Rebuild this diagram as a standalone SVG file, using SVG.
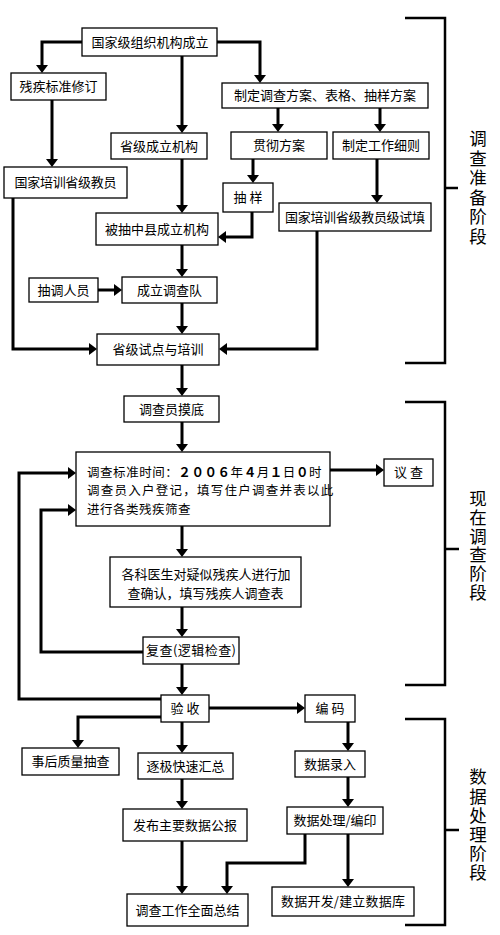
<svg xmlns="http://www.w3.org/2000/svg" width="500" height="935" viewBox="0 0 500 935">
<style>
.b{fill:#fff;stroke:#000;stroke-width:1.3}
.t{font-family:"Noto Sans CJK SC","Noto Sans",sans-serif;font-size:13px;fill:#000;text-anchor:middle}
.tl{font-family:"Noto Sans CJK SC","Noto Sans",sans-serif;font-size:12.5px;fill:#000}
.c{fill:none;stroke:#000;stroke-width:3}
.a{marker-end:url(#ah)}
.br{fill:none;stroke:#000;stroke-width:2.5}
.s{font-family:"Noto Sans CJK SC","Noto Sans",sans-serif;font-size:17.5px;fill:#000;writing-mode:vertical-rl;text-anchor:start}
</style>
<defs>
<marker id="ah" viewBox="0 0 8 12" markerWidth="8" markerHeight="12" refX="1" refY="6" orient="auto" markerUnits="userSpaceOnUse">
<path d="M0,0 L8,6 L0,12 z" fill="#000"/>
</marker>
</defs>
<rect width="500" height="935" fill="#fff"/>
<g id="connectors">
<path class="c a" d="M82,42 H42 V66"/>
<path class="c a" d="M182,56 V126"/>
<path class="c a" d="M217,42 H260 V76"/>
<path class="c a" d="M52,100 V160"/>
<path class="c a" d="M278,108 V125"/>
<path class="c a" d="M380,108 V125"/>
<path class="c a" d="M253,159 V176"/>
<path class="c a" d="M252,212 V237 H225"/>
<path class="c a" d="M377,159 V196"/>
<path class="c a" d="M317,231 V349 H226"/>
<path class="c a" d="M13,198 V349 H90"/>
<path class="c a" d="M182,159 V206"/>
<path class="c a" d="M182,245 V270"/>
<path class="c a" d="M98,290 H115"/>
<path class="c a" d="M182,303 V327"/>
<path class="c a" d="M182,365 V389"/>
<path class="c a" d="M182,422 V445"/>
<path class="c a" d="M330,470 H377"/>
<path class="c a" d="M182,526 V550"/>
<path class="c a" d="M182,607 V630"/>
<path class="c a" d="M182,664 V688"/>
<path class="c a" d="M143,652 H41 V510 H69"/>
<path class="c a" d="M161,699 H19 V473 H69"/>
<path class="c a" d="M209,708 H298"/>
<path class="c a" d="M161,717 H78 V741"/>
<path class="c a" d="M182,722 V746"/>
<path class="c a" d="M182,779 V802"/>
<path class="c a" d="M182,841 V887"/>
<path class="c a" d="M305,834 V863 H227 V887"/>
<path class="c a" d="M348,722 V744"/>
<path class="c a" d="M348,777 V800"/>
<path class="c a" d="M348,834 V880"/>
</g>
<g id="brackets">
<path class="br" d="M405,18 H445 V363 H405 M445,188 H458"/>
<path class="br" d="M405,402 H445 V685 H405 M445,549 H459"/>
<path class="br" d="M405,719 H445 V925 H405 M445,830 H459"/>
</g>
<g id="n1"><rect class="b" x="82" y="28" width="135" height="28"/><text class="t" x="150" y="46.5">国家级组织机构成立</text></g>
<g id="n2"><rect class="b" x="11" y="73" width="95" height="27"/><text class="t" x="58.5" y="91">残疾标准修订</text></g>
<g id="n3"><rect class="b" x="111" y="133" width="96" height="26"/><text class="t" x="159" y="150.5">省级成立机构</text></g>
<g id="n4"><rect class="b" x="222" y="83" width="206" height="25"/><text class="t" x="325" y="100">制定调查方案、表格、抽样方案</text></g>
<g id="n5"><rect class="b" x="231" y="132" width="96" height="27"/><text class="t" x="279" y="150">贯彻方案</text></g>
<g id="n6"><rect class="b" x="333" y="132" width="96" height="27"/><text class="t" x="381" y="150" textLength="78">制定工作细则</text></g>
<g id="n7"><rect class="b" x="4" y="167" width="123" height="31"/><text class="t" x="65.5" y="187" textLength="102">国家培训省级教员</text></g>
<g id="n8"><rect class="b" x="223" y="183" width="50" height="29"/><text class="t" x="248" y="202">抽 样</text></g>
<g id="n9"><rect class="b" x="279" y="203" width="152" height="28"/><text class="t" x="355" y="221.5" textLength="140">国家培训省级教员级试填</text></g>
<g id="n10"><rect class="b" x="96" y="213" width="122" height="32"/><text class="t" x="157" y="233.5" textLength="104">被抽中县成立机构</text></g>
<g id="n11"><rect class="b" x="29" y="278" width="69" height="24"/><text class="t" x="63.5" y="294.5">抽调人员</text></g>
<g id="n12"><rect class="b" x="122" y="277" width="95" height="26"/><text class="t" x="169.5" y="294.5">成立调查队</text></g>
<g id="n13"><rect class="b" x="97" y="334" width="122" height="31"/><text class="t" x="158" y="354">省级试点与培训</text></g>
<g id="n14"><rect class="b" x="124" y="396" width="95" height="26"/><text class="t" x="171.5" y="413.5">调查员摸底</text></g>
<g id="n15"><rect class="b" x="76" y="452" width="254" height="74"/>
<text class="tl"><tspan x="87" y="476.5" letter-spacing="0.55">调查标准时间：<tspan font-weight="bold">２００６</tspan>年<tspan font-weight="bold">４</tspan>月<tspan font-weight="bold">１</tspan>日<tspan font-weight="bold">０</tspan>时</tspan><tspan x="87" y="495" letter-spacing="1.25">调查员入户登记，填写住户调查并表以此</tspan><tspan x="87" y="513.5" letter-spacing="0.5">进行各类残疾筛查</tspan></text></g>
<g id="n16"><rect class="b" x="384" y="459" width="49" height="27"/><text class="t" x="408.5" y="477">议 查</text></g>
<g id="n17"><rect class="b" x="110" y="557" width="191" height="50"/>
<text class="t"><tspan x="206" y="579">各科医生对疑似残疾人进行加</tspan><tspan x="205.5" y="598">查确认，填写残疾人调查表</tspan></text></g>
<g id="n18"><rect class="b" x="143" y="637" width="96" height="27"/><text class="t" x="191" y="655" textLength="90">复查(逻辑检查)</text></g>
<g id="n19"><rect class="b" x="161" y="695" width="48" height="27"/><text class="t" x="185" y="713">验 收</text></g>
<g id="n20"><rect class="b" x="305" y="695" width="50" height="27"/><text class="t" x="330" y="713">编 码</text></g>
<g id="n21"><rect class="b" x="22" y="748" width="97" height="27"/><text class="t" x="70.5" y="766">事后质量抽查</text></g>
<g id="n22"><rect class="b" x="138" y="753" width="95" height="26"/><text class="t" x="185.5" y="770.5">逐极快速汇总</text></g>
<g id="n23"><rect class="b" x="295" y="751" width="70" height="26"/><text class="t" x="330" y="768.5">数据录入</text></g>
<g id="n24"><rect class="b" x="123" y="809" width="124" height="32"/><text class="t" x="185" y="829.5" textLength="104">发布主要数据公报</text></g>
<g id="n25"><rect class="b" x="287" y="807" width="96" height="27"/><text class="t" x="335" y="825">数据处理/编印</text></g>
<g id="n26"><rect class="b" x="127" y="894" width="121" height="32"/><text class="t" x="187.5" y="914.5" textLength="104">调查工作全面总结</text></g>
<g id="n27"><rect class="b" x="272" y="887" width="142" height="29"/><text class="t" x="343" y="906" textLength="124">数据开发/建立数据库</text></g>
<g id="stage1"><text class="s" x="478" y="130" letter-spacing="2">调查准备阶段</text></g>
<g id="stage2"><text class="s" x="478" y="490" letter-spacing="1.2">现在调查阶段</text></g>
<g id="stage3"><text class="s" x="478" y="768" letter-spacing="1.7">数据处理阶段</text></g>
</svg>
